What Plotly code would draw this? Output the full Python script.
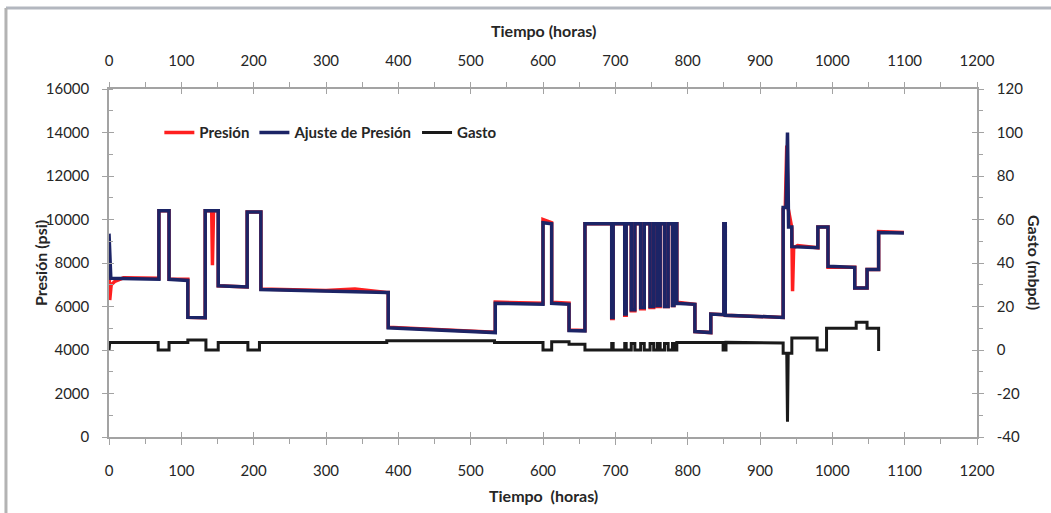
import plotly.graph_objects as go

# Presión medida (psi) — vértices de la serie escalonada
t_presion = [0, 1, 3, 8, 20, 69, 69, 83, 83, 109, 109, 133, 133, 142, 143, 144.5, 151, 151,
             191, 191, 210, 210, 300, 340, 384, 386, 386, 534, 534, 600, 600, 612, 612, 636,
             636, 658, 658, 695, 695, 697, 697, 713, 713, 715, 715, 722, 722, 727, 727, 735,
             735, 740, 740, 748, 748, 753, 753, 758, 758, 762, 762, 768, 768, 773, 773, 779,
             779, 781, 781, 785, 785, 810, 810, 832, 832, 850, 850, 852, 852, 932, 932, 935,
             937, 939, 944, 945, 946.5, 952, 980, 980, 994, 994, 1031, 1031, 1048, 1048, 1064,
             1064, 1099]
p_presion = [7900, 6300, 7000, 7150, 7320, 7300, 10400, 10400, 7250, 7250, 5500, 5480, 10400, 10400, 7900, 10400, 10400, 6950,
             6900, 10350, 10350, 6800, 6740, 6800, 6640, 6640, 5050, 4820, 6200, 6150, 10000, 9850, 6200, 6150,
             4920, 4900, 9800, 9800, 5450, 5450, 9800, 9800, 5600, 5600, 9800, 9800, 5800, 5800, 9800, 9800,
             5900, 5900, 9800, 9800, 5950, 5950, 9800, 9800, 6000, 6000, 9800, 9800, 6000, 6000, 9800, 9800,
             6050, 6050, 9800, 9800, 6200, 6100, 4850, 4800, 5650, 5620, 9800, 9800, 5600, 5500, 10500, 10600,
             13400, 10500, 9600, 6700, 8700, 8800, 8700, 9650, 9650, 7800, 7800, 6850, 6850, 7700, 7700,
             9450, 9400]

# Ajuste de presión del modelo (psi)
t_ajuste = [0, 2.5, 69, 69, 83, 83, 109, 109, 133, 133, 151, 151, 191, 191, 210, 210, 384, 386,
            386, 534, 534, 600, 600, 612, 612, 636, 636, 658, 658, 695, 695, 697, 697, 713, 713,
            715, 715, 722, 722, 727, 727, 735, 735, 740, 740, 748, 748, 753, 753, 758, 758, 762,
            762, 768, 768, 773, 773, 779, 779, 781, 781, 785, 785, 810, 810, 832, 832, 850, 850,
            852, 852, 932, 932, 936, 938, 939.5, 944, 944, 980, 980, 994, 994, 1031, 1031, 1048,
            1048, 1064, 1064, 1099]
p_ajuste = [9350, 7300, 7250, 10400, 10400, 7250, 7200, 5500, 5480, 10400, 10400, 6950, 6900, 10350, 10350, 6780, 6640, 6640,
            5020, 4800, 6150, 6100, 9850, 9800, 6150, 6100, 4900, 4880, 9800, 9800, 5500, 5500, 9800, 9800, 5650,
            5650, 9800, 9800, 5850, 5850, 9800, 9800, 5950, 5950, 9800, 9800, 6000, 6000, 9800, 9800, 6050, 6050,
            9800, 9800, 6000, 6000, 9800, 9800, 6050, 6050, 9800, 9800, 6150, 6100, 4850, 4800, 5650, 5620, 9800,
            9800, 5600, 5500, 10550, 10550, 14000, 9650, 9650, 8750, 8700, 9650, 9650, 7850, 7800, 6850, 6850,
            7700, 7700, 9400, 9380]

# Gasto (mbpd)
t_gasto = [0, 1, 68, 68, 83, 83, 109, 109, 134, 134, 151, 151, 192, 192, 208, 208, 384, 384,
           533, 533, 600, 600, 612, 612, 636, 636, 658, 658, 695, 695, 697, 697, 713, 713, 715,
           715, 722, 722, 727, 727, 735, 735, 740, 740, 748, 748, 753, 753, 758, 758, 762, 762,
           768, 768, 773, 773, 779, 779, 781, 781, 785, 785, 849, 849, 853, 853, 932, 932, 937,
           938, 939, 944, 944, 979, 979, 992, 992, 1033, 1033, 1048, 1048, 1064, 1064]
q_gasto = [0, 3.5, 3.5, 0, 0, 3.5, 3.5, 4.6, 4.6, 0, 0, 3.5, 3.5, 0, 0, 3.5, 3.5, 4.3,
           4.3, 3.5, 3.5, 0, 0, 3.8, 3.8, 2.6, 2.6, 0, 0, 3, 3, 0, 0, 3, 3,
           0, 0, 3, 3, 0, 0, 3, 3, 0, 0, 3, 3, 0, 0, 3, 3, 0,
           0, 3, 3, 0, 0, 3, 3, 0, 0, 3.5, 3.5, 0, 0, 3.5, 3.2, -1.5, -1.5,
           -33, -1.5, -1.5, 5.5, 5.5, 0, 0, 10, 10, 12.8, 12.8, 10, 10, -0.5]

x_ticks = list(range(0, 1201, 100))
p_ticks = list(range(0, 16001, 2000))
q_ticks = list(range(-40, 121, 20))

FONT = "Lato, sans-serif"
AX = "#a3a3a3"
TXT = "#262626"

fig = go.Figure()
fig.add_trace(go.Scatter(x=t_presion, y=p_presion, mode="lines", name="Presión",
                         line=dict(color="#ff1f1f", width=3.5)))
fig.add_trace(go.Scatter(x=t_ajuste, y=p_ajuste, mode="lines", name="Ajuste de Presión",
                         line=dict(color="#1c2466", width=3.5)))
fig.add_trace(go.Scatter(x=t_gasto, y=q_gasto, mode="lines", name="Gasto", yaxis="y2",
                         line=dict(color="#1a1a1a", width=3)))
# empty traces that bring the companion tick axes into the layout
for xa, ya in (("x2", "y3"), ("x3", "y4"), ("x4", "y")):
    fig.add_trace(go.Scatter(x=[None], y=[None], xaxis=xa, yaxis=ya, showlegend=False,
                             hoverinfo="skip", mode="lines"))

tickfont = dict(family=FONT, size=15, color=TXT)
x_text = [str(v) for v in x_ticks]
p_text = [str(v) for v in p_ticks]
q_text = [str(v) for v in q_ticks]
common_x = dict(range=[0, 1200], tickvals=x_ticks, ticktext=x_text, showgrid=False,
                zeroline=False, tickcolor=AX, tickwidth=1.3)
common_p = dict(range=[0, 16000], tickvals=p_ticks, ticktext=p_text, showgrid=False,
                zeroline=False, tickcolor=AX, tickwidth=1.3)
common_q = dict(range=[-40, 120], tickvals=q_ticks, ticktext=q_text, showgrid=False,
                zeroline=False, tickcolor=AX, tickwidth=1.3)

fig.update_layout(
    width=1051, height=513,
    margin=dict(l=109, r=74, t=89, b=76),
    paper_bgcolor="white", plot_bgcolor="white",
    showlegend=True,
    legend=dict(orientation="h", x=0.058, y=0.874, xanchor="left", yanchor="middle",
                bgcolor="rgba(0,0,0,0)", font=dict(family=FONT, size=15, color=TXT, weight="bold"),
                itemwidth=30, tracegroupgap=0),
    xaxis=dict(**common_x, side="bottom", showline=True, linecolor=AX, linewidth=1.5,
               ticks="outside", ticklen=6, tickfont=tickfont, ticklabelstandoff=13,
               minor=dict(dtick=50, ticks="outside", ticklen=5, tickcolor=AX)),
    xaxis2=dict(**common_x, side="top", overlaying="x", anchor="y3", showline=True, linecolor=AX,
                linewidth=1.5, ticks="outside", ticklen=5, tickfont=tickfont, ticklabelstandoff=10,
                minor=dict(dtick=50, ticks="outside", ticklen=5, tickcolor=AX)),
    xaxis3=dict(**common_x, side="bottom", overlaying="x", anchor="y4", showline=False,
                ticks="inside", ticklen=5, showticklabels=False),
    xaxis4=dict(**common_x, side="top", overlaying="x", anchor="y", showline=False,
                ticks="inside", ticklen=5, showticklabels=False),
    yaxis=dict(**common_p, side="left", showline=True, linecolor=AX, linewidth=1.5,
               ticks="outside", ticklen=5, tickfont=tickfont, ticklabelstandoff=10,
               minor=dict(dtick=1000, ticks="inside", ticklen=4, tickcolor=AX)),
    yaxis2=dict(**common_q, side="right", overlaying="y", anchor="x", showline=True, linecolor=AX,
                linewidth=1.5, ticks="outside", ticklen=5, tickfont=tickfont, ticklabelstandoff=10,
                minor=dict(dtick=10, ticks="outside", ticklen=4, tickcolor=AX)),
    yaxis3=dict(**common_p, side="left", overlaying="y", anchor="x2", showline=False,
                ticks="inside", ticklen=5, showticklabels=False),
    yaxis4=dict(**common_q, side="right", overlaying="y", anchor="x3", showline=False,
                ticks="inside", ticklen=5, showticklabels=False),
)

title_font = dict(family=FONT, size=16, color=TXT, weight="bold")
fig.add_annotation(text="Tiempo (horas)", xref="paper", yref="paper", x=0.5, y=1.1695,
                   xanchor="center", yanchor="middle", showarrow=False, font=title_font)
fig.add_annotation(text="Tiempo  (horas)", xref="paper", yref="paper", x=0.5, y=-0.1695,
                   xanchor="center", yanchor="middle", showarrow=False, font=title_font)
fig.add_annotation(text="Presión (psi)", xref="paper", yref="paper", x=-0.0795, y=0.5,
                   xanchor="center", yanchor="middle", showarrow=False, textangle=-90,
                   font=title_font)
fig.add_annotation(text="Gasto (mbpd)", xref="paper", yref="paper", x=1.0668, y=0.5,
                   xanchor="center", yanchor="middle", showarrow=False, textangle=90,
                   font=title_font)

# frame lines along the top and left edges of the figure
fig.add_shape(type="line", xref="paper", yref="paper", x0=-0.1187, x1=1.09, y0=1.2328, y1=1.2328,
              line=dict(color="#b3b7bf", width=3), layer="above")
fig.add_shape(type="line", xref="paper", yref="paper", x0=-0.1187, x1=-0.1187, y0=1.2328, y1=-0.22,
              line=dict(color="#b3b3b3", width=3), layer="above")

fig.write_html("out.html")
